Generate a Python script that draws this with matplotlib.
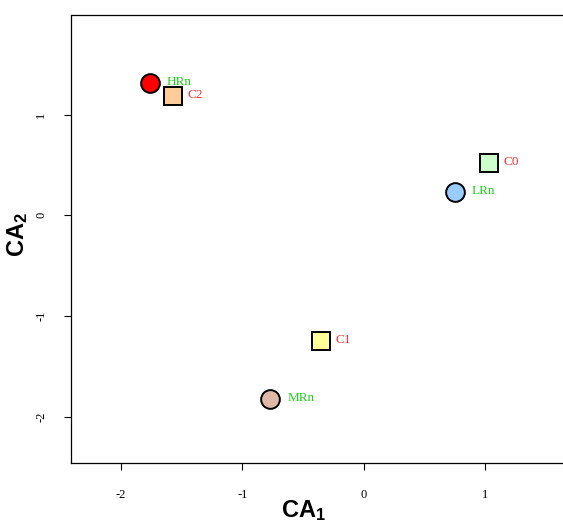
import matplotlib
matplotlib.use("Agg")
import matplotlib.pyplot as plt

plt.rcParams["mathtext.fontset"] = "custom"
plt.rcParams["mathtext.bf"] = "Liberation Sans:bold"
plt.rcParams["mathtext.rm"] = "Liberation Sans"

# row points (circles)
row_names = ["HRn", "LRn", "MRn"]
row_x = [-1.76, 0.75, -0.77]
row_y = [1.31, 0.23, -1.82]
row_fill = ["#FF0000", "#99CCFF", "#E0B8A8"]

# column points (squares)
col_names = ["C0", "C1", "C2"]
col_x = [1.03, -0.35, -1.57]
col_y = [0.52, -1.25, 1.19]
col_fill = ["#CCFFCC", "#FFFF99", "#FFCC99"]

xticks = [-2, -1, 0, 1]
yticks = [-2, -1, 0, 1]

fig = plt.figure(figsize=(5.63, 5.23), dpi=100)
ax = fig.add_axes([0.1261, 0.1147, 0.898, 0.8566])

for x, y, c in zip(col_x, col_y, col_fill):
    ax.plot(x, y, marker="s", ms=12.5, mfc=c, mec="black", mew=1.4, ls="none")
for x, y, c in zip(row_x, row_y, row_fill):
    ax.plot(x, y, marker="o", ms=13.5, mfc=c, mec="black", mew=1.4, ls="none")

for x, y, n in zip(row_x, row_y, row_names):
    ax.text(x + 0.14, y + 0.01, n, color="#22CC22", fontsize=9.5,
            family="Liberation Serif", va="center", ha="left")
for x, y, n in zip(col_x, col_y, col_names):
    ax.text(x + 0.12, y + 0.01, n, color="#FF3333", fontsize=9.5,
            family="Liberation Serif", va="center", ha="left")

ax.set_xlim(-2.41, 1.75)
ax.set_ylim(-2.46, 1.99)
ax.set_xticks(xticks)
ax.set_yticks(yticks)
ax.set_xticklabels([str(t) for t in xticks], family="Liberation Serif", fontsize=9)
ax.set_yticklabels([str(t) for t in yticks], family="Liberation Serif", fontsize=9,
                   rotation=90, va="center")
ax.tick_params(length=5, width=0.8)
ax.tick_params(axis="x", pad=14)
ax.tick_params(axis="y", pad=12)

for s in ax.spines.values():
    s.set_linewidth(0.9)

ax.set_xlabel(r"$\mathbf{CA_1}$", fontsize=17)
ax.set_ylabel(r"$\mathbf{CA_2}$", fontsize=17)
ax.xaxis.set_label_coords(0.46, -0.078)
ax.yaxis.set_label_coords(-0.082, 0.51)

fig.savefig("out.png", dpi=100)
